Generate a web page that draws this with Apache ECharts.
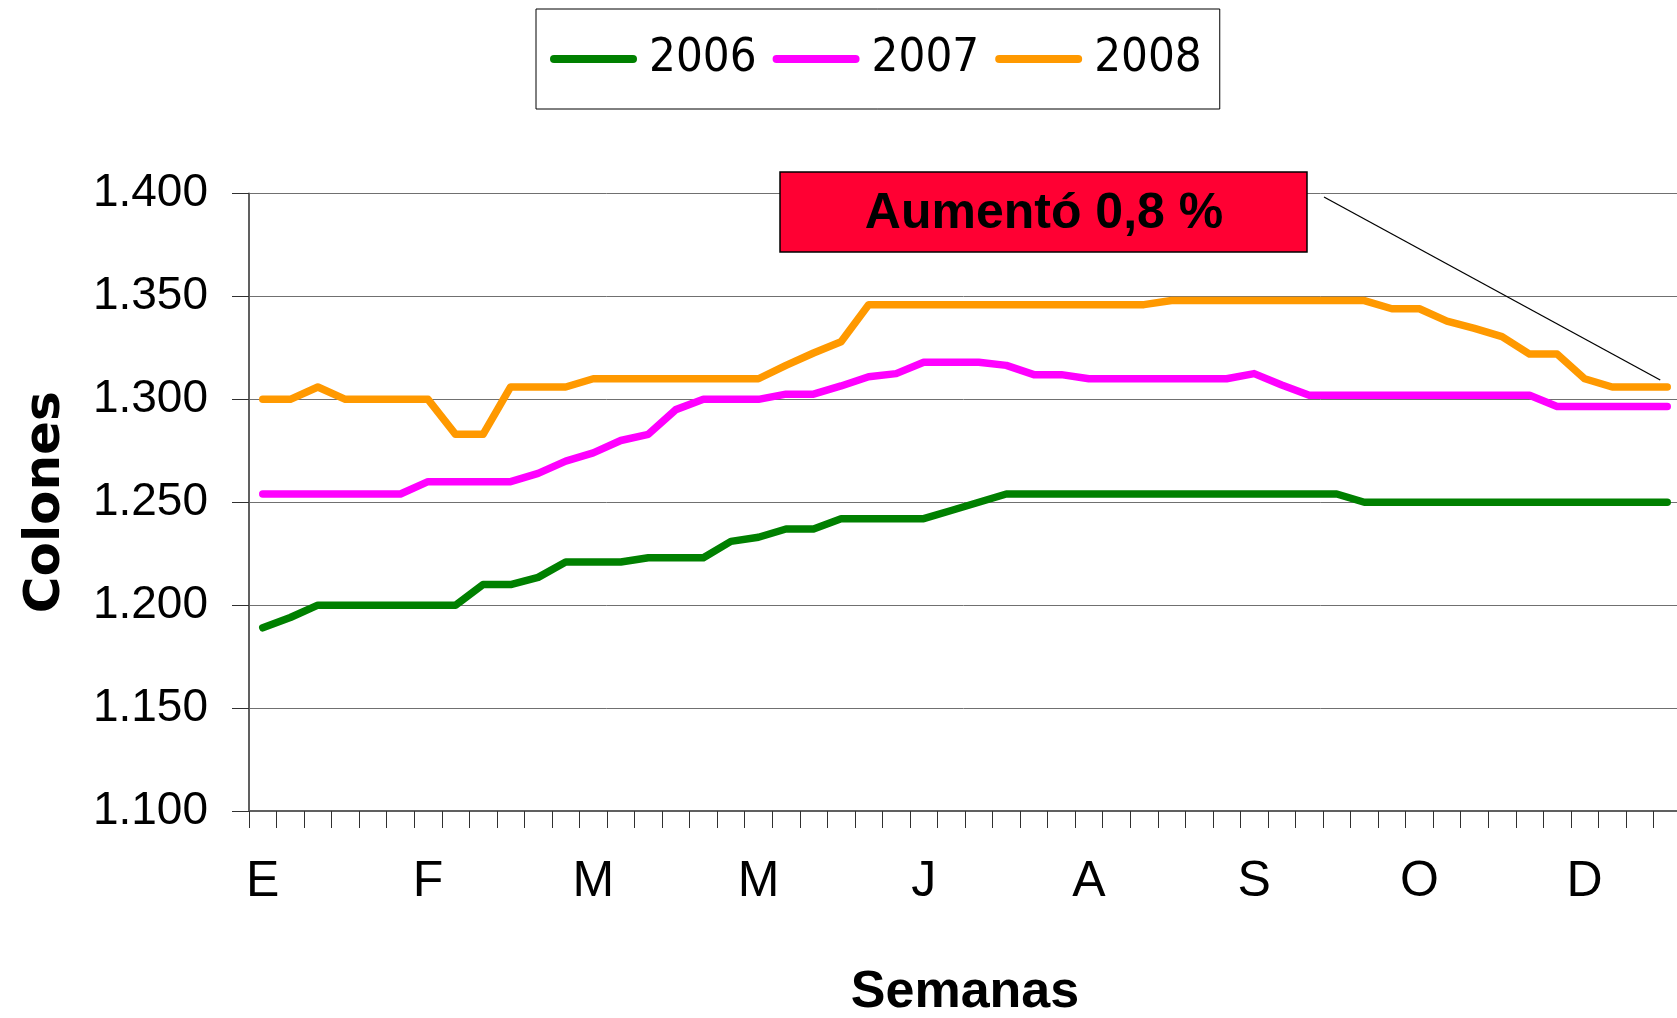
<!DOCTYPE html>
<html>
<head>
<meta charset="utf-8">
<script src="https://cdn.jsdelivr.net/npm/echarts@6/dist/echarts.min.js"></script>
<style>
html,body{margin:0;padding:0;background:#ffffff;}
#chart{width:1677px;height:1018px;}
</style>
</head>
<body>
<div id="chart"></div>
<script>
// ---- data ----
const weeks = [1,2,3,4,5,6,7,8,9,10,11,12,13,14,15,16,17,18,19,20,21,22,23,24,25,26,
               27,28,29,30,31,32,33,34,35,36,37,38,39,40,41,42,43,44,45,46,47,48,49,50,51,52];
const monthLabels = ['E','F','M','M','J','A','S','O','D'];
const seriesNames = ['2006','2007','2008'];
const values2006 = [1189,1194,1200,1200,1200,1200,1200,1200,1210,1210,1213.5,1221,1221,1221,1223,1223,
                    1223,1231,1233,1237,1237,1242,1242,1242,1242,1246,1250,1254,1254,1254,1254,1254,
                    1254,1254,1254,1254,1254,1254,1254,1254,1250,1250,1250,1250,1250,1250,1250,1250,
                    1250,1250,1250,1250];
const values2007 = [1254,1254,1254,1254,1254,1254,1260,1260,1260,1260,1264,1270,1274,1280,1283,1295,
                    1300,1300,1300,1302.5,1302.5,1306.5,1311,1312.5,1318,1318,1318,1316.5,1312,1312,1310,1310,
                    1310,1310,1310,1310,1312.5,1307,1302,1302,1302,1302,1302,1302,1302,1302,1302,1296.5,
                    1296.5,1296.5,1296.5,1296.5];
const values2008 = [1300,1300,1306,1300,1300,1300,1300,1283,1283,1306,1306,1306,1310,1310,1310,1310,
                    1310,1310,1310,1316.5,1322.5,1328,1346,1346,1346,1346,1346,1346,1346,1346,1346,1346,
                    1346,1348,1348,1348,1348,1348,1348,1348,1348,1344,1344,1338,1334.5,1330.5,1322,1322,
                    1310,1306,1306,1306];
const seriesColors = ['#008000','#FF00FF','#FF9900'];
const yMin = 1100, yMax = 1400, yStep = 50;
const annotationText = 'Aumentó 0,8 %';

const CONDENSED = "'DejaVu Sans Condensed','Liberation Sans Narrow','Liberation Sans',sans-serif";
const SANS = "'Liberation Sans',Arial,sans-serif";

const chart = echarts.init(document.getElementById('chart'), null, {renderer: 'canvas'});

const seriesData = [values2006, values2007, values2008];

const option = {
  animation: false,
  backgroundColor: '#ffffff',
  grid: {
    left: 249, top: 193.5, width: 1432, height: 617.5,
    containLabel: false, outerBoundsMode: 'none'
  },
  legend: {
    data: seriesNames,
    left: 536, top: 9,
    orient: 'horizontal',
    padding: [20, 18, 20, 14],
    itemGap: 16,
    itemWidth: 87, itemHeight: 8,
    icon: 'path://M4,0 H83 A4,4 0 0 1 83,8 H4 A4,4 0 0 1 4,0 Z',
    borderColor: '#000000', borderWidth: 1,
    backgroundColor: '#ffffff',
    textStyle: {fontFamily: CONDENSED, fontSize: 47, lineHeight: 60, color: '#000000', padding: [0,0,0,7]}
  },
  xAxis: {
    type: 'category',
    data: weeks,
    boundaryGap: true,
    name: 'Semanas',
    nameLocation: 'middle',
    nameGap: 156,
    nameTextStyle: {fontFamily: SANS, fontWeight: 'bold', fontSize: 52, lineHeight: 52, color: '#000000'},
    axisLine: {show: true, lineStyle: {color: '#606060', width: 2}},
    axisTick: {show: true, interval: 0, length: 17, lineStyle: {color: '#303030', width: 1}},
    axisLabel: {
      interval: function (index) { return index % 6 === 0; },
      formatter: function (value, index) { return index % 6 === 0 ? (monthLabels[index / 6] || '') : ''; },
      fontFamily: SANS, fontSize: 50, lineHeight: 51, color: '#000000', margin: 46
    },
    splitLine: {show: false}
  },
  yAxis: {
    type: 'value',
    min: yMin, max: yMax, interval: yStep,
    name: 'Colones',
    nameLocation: 'middle',
    nameRotate: 90,
    nameGap: 178,
    nameTextStyle: {fontFamily: "'DejaVu Sans',sans-serif", fontWeight: 'bold', fontSize: 50, lineHeight: 50, color: '#000000'},
    axisLine: {show: true, lineStyle: {color: '#606060', width: 2}},
    axisTick: {show: true, length: 17, lineStyle: {color: '#303030', width: 1}},
    axisLabel: {
      formatter: function (v) { return (v / 1000).toFixed(3); },
      fontFamily: SANS, fontSize: 46, color: '#000000', margin: 41
    },
    splitLine: {show: true, lineStyle: {color: '#707070', width: 1}}
  },
  series: seriesNames.map(function (name, i) {
    return {
      name: name,
      type: 'line',
      data: seriesData[i],
      symbol: 'none',
      showSymbol: false,
      color: seriesColors[i],
      lineStyle: {color: seriesColors[i], width: 7.5, cap: 'round', join: 'round'},
      z: 3 + i
    };
  })
};

chart.setOption(option);

// annotation: box + pointer line toward the last 2008 value
const lastIdx = values2008.length - 1;
const endPt = chart.convertToPixel({gridIndex: 0}, [lastIdx, values2008[lastIdx]]);
chart.setOption({
  graphic: [
    {
      type: 'line',
      shape: {x1: 1324, y1: 197, x2: endPt[0] - 7, y2: endPt[1] - 7},
      style: {stroke: '#000000', lineWidth: 1.3},
      z: 10
    },
    {
      type: 'rect',
      shape: {x: 780, y: 172, width: 527, height: 80},
      style: {fill: '#FF0033', stroke: '#000000', lineWidth: 1.5},
      z: 11
    },
    {
      type: 'text',
      x: 1044, y: 214,
      style: {
        text: annotationText,
        fontFamily: SANS, fontWeight: 'bold', fontSize: 50,
        fill: '#000000', align: 'center', verticalAlign: 'middle'
      },
      z: 12
    }
  ]
});
</script>
</body>
</html>
